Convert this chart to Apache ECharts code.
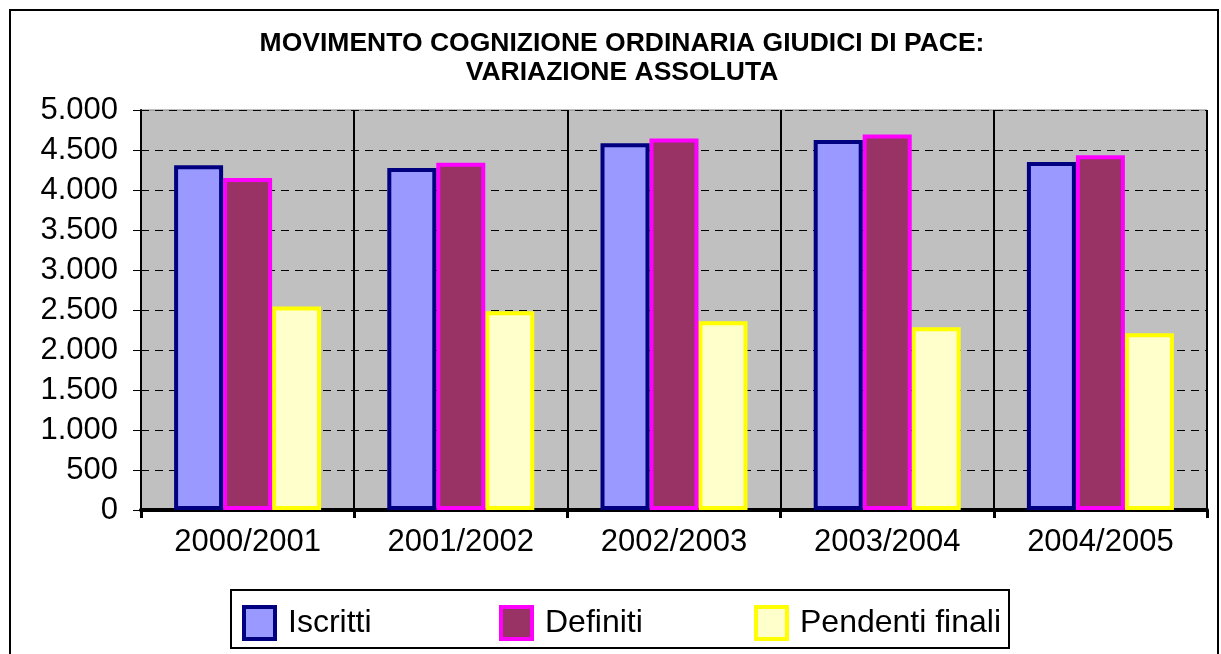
<html>
<head>
<meta charset="utf-8">
<title>Movimento cognizione ordinaria giudici di pace</title>
<script src="https://cdn.jsdelivr.net/npm/echarts@6/dist/echarts.min.js"></script>
<style>
	body { margin: 0; background: #fff; }
</style>
</head>
<body>
	<div id="main" style="width: 1221px; height: 654px;"></div>
	<script type="text/javascript">
		// dati
		var anni = ['2000/2001', '2001/2002', '2002/2003', '2003/2004', '2004/2005'];
		var iscritti = [4310, 4275, 4585, 4625, 4350];
		var definiti = [4150, 4340, 4645, 4695, 4435];
		var pendenti = [2545, 2485, 2360, 2285, 2210];
		var yTicks = [0, 500, 1000, 1500, 2000, 2500, 3000, 3500, 4000, 4500, 5000];
		var nomi = ['Iscritti', 'Definiti', 'Pendenti finali'];

		var font = '"Liberation Sans", Arial, sans-serif';

		// separatore migliaia con il punto
		function fmt(v) {
			return String(v).replace(/\B(?=(\d{3})+(?!\d))/g, '.');
		}

		// una legenda per voce, così le posizioni sono come nell'originale
		var legendLeft = [242, 499, 754];
		var legende = [];
		for (var i = 0; i < nomi.length; i++) {
			legende.push({
				left: legendLeft[i],
				top: 605,
				padding: 0,
				itemWidth: 31,
				itemHeight: 32,
				icon: 'rect',
				itemStyle: { borderWidth: 4, borderColor: 'inherit' },
				textStyle: {
					fontFamily: font,
					fontSize: 32,
					color: '#000',
					padding: [0, 0, 0, 8]
				},
				data: [nomi[i]]
			});
		}

		var myChart = echarts.init(document.getElementById('main'));

		myChart.setOption({
			animation: false,
			title: {
				text: 'MOVIMENTO COGNIZIONE ORDINARIA GIUDICI DI PACE:\nVARIAZIONE ASSOLUTA',
				left: 622,
				top: 29,
				padding: 0,
				textAlign: 'center',
				textStyle: {
					fontFamily: font,
					fontWeight: 'bold',
					fontSize: 26.5,
					lineHeight: 29,
					color: '#000'
				}
			},
			graphic: [{
				type: 'rect',
				shape: { x: 10, y: 10, width: 1208, height: 700 },
				style: { fill: null, stroke: '#000', lineWidth: 2 },
				silent: true
			}, {
				type: 'rect',
				shape: { x: 231, y: 590, width: 778, height: 58 },
				style: { fill: null, stroke: '#000', lineWidth: 2 },
				silent: true
			}],
			legend: legende,
			grid: {
				left: 141,
				right: 14,
				top: 110,
				bottom: 144,
				show: true,
				backgroundColor: '#C0C0C0',
				borderColor: '#808080',
				borderWidth: 1
			},
			xAxis: {
				type: 'category',
				data: anni,
				axisLine: { show: true, lineStyle: { color: '#000', width: 4 } },
				axisTick: { show: true, length: 8, lineStyle: { color: '#000', width: 3 } },
				axisLabel: {
					fontFamily: font,
					fontSize: 31,
					color: '#000',
					margin: 17
				},
				splitLine: { show: true, lineStyle: { color: '#000', width: 2 } }
			},
			yAxis: {
				type: 'value',
				min: 0,
				max: 5000,
				interval: 500,
				axisLine: { show: true, lineStyle: { color: '#000', width: 2 } },
				axisTick: { show: true, length: 8, lineStyle: { color: '#000', width: 1 } },
				axisLabel: {
					fontFamily: font,
					fontSize: 31,
					color: '#000',
					margin: 23,
					formatter: function (v) {
						return yTicks.indexOf(v) >= 0 ? fmt(v) : '';
					}
				},
				splitLine: { show: true, lineStyle: { color: '#000', width: 1, type: [8, 6] } }
			},
			series: [
				{
					name: 'Iscritti',
					type: 'bar',
					z: 4,
					barWidth: 49,
					barGap: '0%',
					data: iscritti,
					itemStyle: { color: '#9999FF', borderColor: '#000080', borderWidth: 4 }
				},
				{
					name: 'Definiti',
					type: 'bar',
					z: 3,
					barWidth: 49,
					barGap: '0%',
					data: definiti,
					itemStyle: { color: '#993366', borderColor: '#FF00FF', borderWidth: 4 }
				},
				{
					name: 'Pendenti finali',
					type: 'bar',
					z: 2,
					barWidth: 49,
					barGap: '0%',
					data: pendenti,
					itemStyle: { color: '#FFFFCC', borderColor: '#FFFF00', borderWidth: 4 }
				}
			]
		});
	</script>
</body>
</html>
